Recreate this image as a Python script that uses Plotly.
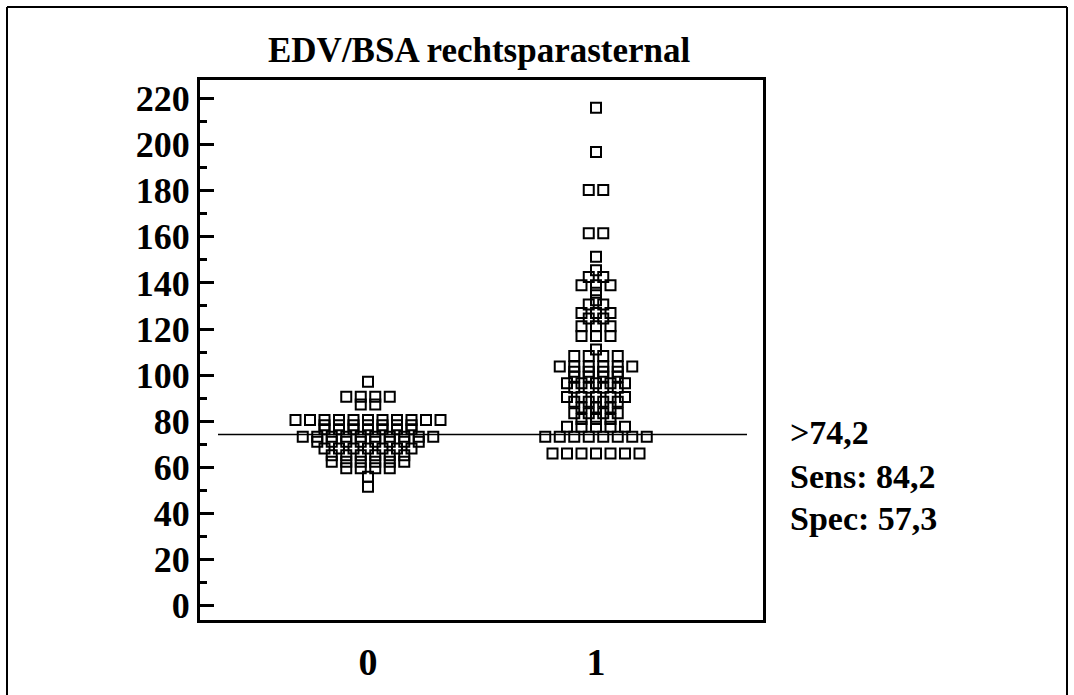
import plotly.graph_objects as go
from collections import Counter

# ---------------- data ----------------
categories = [0, 1]
category_labels = ["0", "1"]

group0_values = [
    97.1,
    90.6, 90.6, 90.6, 90.6,
    87.3, 87.3,
    80.5, 80.5, 80.5, 80.5, 80.5, 80.5, 80.5, 80.5, 80.5, 80.5, 80.5,
    78.3, 78.3, 78.3, 78.3, 78.3, 78.3, 78.3,
    76.5, 76.5, 76.5, 76.5, 76.5, 76.5, 76.5,
    73.3, 73.3, 73.3, 73.3, 73.3, 73.3, 73.3, 73.3, 73.3, 73.3,
    71.1, 71.1, 71.1, 71.1, 71.1, 71.1, 71.1, 71.1,
    68.2, 68.2, 68.2, 68.2, 68.2, 68.2, 68.2,
    65.3, 65.3, 65.3, 65.3, 65.3, 65.3,
    62.4, 62.4, 62.4, 62.4, 62.4, 62.4,
    59.6, 59.6, 59.6, 59.6,
    55.9,
    51.6,
]

group1_values = [
    216.0,
    196.8,
    180.3, 180.3,
    161.5, 161.5,
    151.3,
    145.5,
    142.6, 142.6,
    139.0, 139.0, 139.0,
    135.7,
    132.5,
    130.6, 130.6,
    127.0, 127.0, 127.0,
    124.6, 124.6,
    121.2, 121.2, 121.2,
    117.0, 117.0, 117.0,
    111.1,
    108.3, 108.3, 108.3, 108.3,
    103.7, 103.7, 103.7, 103.7, 103.7, 103.7,
    101.5, 101.5, 101.5, 101.5,
    99.3, 99.3, 99.3, 99.3,
    96.5, 96.5, 96.5, 96.5, 96.5,
    94.5, 94.5, 94.5, 94.5,
    90.5, 90.5, 90.5, 90.5, 90.5,
    88.5, 88.5, 88.5, 88.5,
    86.0, 86.0, 86.0,
    83.5, 83.5, 83.5, 83.5,
    81.0, 81.0, 81.0,
    77.6, 77.6, 77.6, 77.6, 77.6,
    73.3, 73.3, 73.3, 73.3, 73.3, 73.3, 73.3, 73.3,
    66.0, 66.0, 66.0, 66.0, 66.0, 66.0, 66.0,
]

cutoff = 74.2
summary_lines = [">74,2", "Sens: 84,2", "Spec: 57,3"]
title_text = "EDV/BSA rechtsparasternal"
y_ticks = list(range(0, 221, 20))

# ---------------- layout constants ----------------
W, H = 1074, 695
PLOT_L, PLOT_R, PLOT_T, PLOT_B = 200, 763, 80, 620
PX_PER_CAT = 228.0
X_MIN = -(368 - PLOT_L) / PX_PER_CAT
X_MAX = 1 + (PLOT_R - 596) / PX_PER_CAT
STEP = 14.5 / PX_PER_CAT
FONT = "Liberation Serif, Times New Roman, serif"


def px_x(px):
    return (px - PLOT_L) / (PLOT_R - PLOT_L)


def px_y(py):
    return (PLOT_B - py) / (PLOT_B - PLOT_T)


def dot_positions(cat, values):
    counts = Counter(values)
    seen = Counter()
    xs, ys = [], []
    for v in values:
        n = counts[v]
        i = seen[v]
        seen[v] += 1
        xs.append(cat + (i - (n - 1) / 2.0) * STEP)
        ys.append(v)
    return xs, ys


fig = go.Figure()
for cat, vals in zip(categories, [group0_values, group1_values]):
    xs, ys = dot_positions(cat, vals)
    fig.add_trace(go.Scatter(
        x=xs, y=ys, mode="markers",
        marker=dict(symbol="square-open", size=10, color="black",
                    line=dict(width=2, color="black")),
        showlegend=False, hoverinfo="y",
    ))

# cutoff line
fig.add_shape(type="line", xref="x", yref="y",
              x0=X_MIN + (218 - PLOT_L) / PX_PER_CAT,
              x1=X_MAX - (PLOT_R - 747) / PX_PER_CAT,
              y0=cutoff, y1=cutoff, line=dict(color="black", width=1.5))

# outer frame
for x0, y0, x1, y1 in [(7, 7, 7, H + 5), (7, 7, 1067, 7), (1067, 7, 1067, H + 5)]:
    fig.add_shape(type="line", xref="paper", yref="paper",
                  x0=px_x(x0), x1=px_x(x1), y0=px_y(y0), y1=px_y(y1),
                  line=dict(color="black", width=2))

# title
fig.add_annotation(text=title_text, xref="paper", yref="paper",
                   x=px_x(479), y=px_y(51),
                   xanchor="center", yanchor="middle", showarrow=False,
                   font=dict(family=FONT, size=35, color="black", weight="bold"))

# summary text
for line, ypx in zip(summary_lines, [432, 476, 518]):
    fig.add_annotation(text=line, xref="paper", yref="paper",
                       x=px_x(788), y=px_y(ypx),
                       xanchor="left", yanchor="middle", showarrow=False,
                       font=dict(family=FONT, size=34, color="black", weight="bold"))

fig.update_layout(
    width=W, height=H,
    margin=dict(l=PLOT_L, r=W - PLOT_R, t=PLOT_T, b=H - PLOT_B, pad=0, autoexpand=False),
    paper_bgcolor="white", plot_bgcolor="white",
    font=dict(family=FONT, color="black"),
)
fig.update_xaxes(
    range=[X_MIN, X_MAX], tickvals=categories, ticktext=category_labels,
    showgrid=False, zeroline=False, showline=True, linewidth=3, linecolor="black",
    mirror=True, ticks="", ticklabelstandoff=6, automargin=False,
    tickfont=dict(family=FONT, size=38, color="black", weight="bold"),
)
fig.update_yaxes(
    range=[-6.2, 228], tickvals=y_ticks,
    showgrid=False, zeroline=False, showline=True, linewidth=3, linecolor="black",
    mirror=True, ticks="inside", ticklen=14, tickwidth=2.5, tickcolor="black",
    ticklabelstandoff=0, automargin=False,
    minor=dict(dtick=10, tick0=0, ticks="inside", ticklen=7, tickwidth=2.5, tickcolor="black"),
    tickfont=dict(family=FONT, size=36, color="black", weight="bold"),
)

fig.write_html("out.html")
